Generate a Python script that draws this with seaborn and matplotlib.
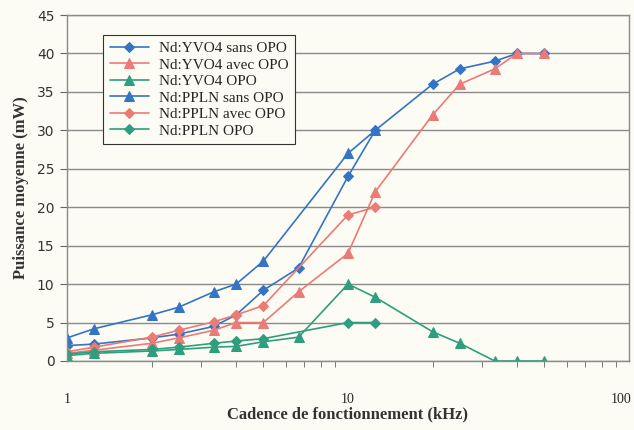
import numpy as np
import pandas as pd
import matplotlib
matplotlib.use("Agg")
import matplotlib.pyplot as plt
import seaborn as sns

# operating rate (kHz)
freq = [1, 1.25, 2, 2.5, 3.33, 4, 5, 6.67, 10, 12.5, 20, 25, 33.3, 40, 50]
freq_pp = [1, 1.25, 2, 2.5, 3.33, 4, 5, 10, 12.5]

# average power (mW)
yvo4_sans = [2, 2.2, 3, 3.5, 4.5, 6, 9.2, 12.1, 24, 30, 36, 38, 39, 40, 40]
yvo4_avec = [1, 1.4, 2.3, 3, 4, 5, 5, 9, 14, 22, 32, 36, 38, 40, 40]
yvo4_opo = [0.7, 1, 1.3, 1.5, 1.8, 1.9, 2.5, 3.1, 10, 8.3, 3.8, 2.3, 0, 0, 0]
ppln_sans = [3, 4.2, 6, 7, 9, 10, 13, 27, 30]
ppln_avec = [1.2, 1.8, 3.1, 4, 5.1, 6, 7.2, 19, 20]
ppln_opo = [0.9, 1.2, 1.5, 1.8, 2.3, 2.6, 2.9, 5, 5]

BLUE = "#3574c4"
RED = "#ec7a76"
GREEN = "#2f9e7e"
SERIF = "Liberation Serif"

series = [
    ("Nd:YVO4 sans OPO", freq, yvo4_sans, BLUE, "D"),
    ("Nd:YVO4 avec OPO", freq, yvo4_avec, RED, "^"),
    ("Nd:YVO4 OPO", freq, yvo4_opo, GREEN, "^"),
    ("Nd:PPLN sans OPO", freq_pp, ppln_sans, BLUE, "^"),
    ("Nd:PPLN avec OPO", freq_pp, ppln_avec, RED, "D"),
    ("Nd:PPLN OPO", freq_pp, ppln_opo, GREEN, "D"),
]

sns.set_style("white")
bg = "#fcfcf4"
fig = plt.figure(figsize=(6.34, 4.30), dpi=100, facecolor=bg)
ax = fig.add_axes([0.1057, 0.1605, 0.8863, 0.8045])
ax.set_facecolor(bg)

for name, xs, ys, col, mk in series:
    df = pd.DataFrame({"f": xs, "p": ys})
    ms = 5.5 if mk == "D" else 7
    sns.lineplot(data=df, x="f", y="p", ax=ax, color=col, marker=mk,
                 markersize=ms, markeredgecolor=col, linewidth=1.2,
                 label=name)

ax.set_xscale("log")
ax.set_xlim(1, 100)
ax.set_ylim(0, 45)
ax.set_yticks(range(0, 46, 5))
ax.yaxis.grid(True, color="#8a8a8a", linewidth=1.0)
ax.set_axisbelow(True)
for sp in ax.spines.values():
    sp.set_color("#8a8a8a")
    sp.set_linewidth(1.0)

ax.set_xticks([1, 10, 100])
ax.set_xticklabels(["1", "10", ""], fontfamily=SERIF, fontsize=10)
# last label nudged left so it stays inside the figure
ax.annotate("100", xy=(100, 0), xycoords="data", xytext=(-8, -32),
            textcoords="offset pixels", ha="center", va="top",
            fontfamily=SERIF, fontsize=10, annotation_clip=False)
ax.tick_params(axis="x", which="major", direction="out", length=5,
               color="#666666", pad=18)
ax.tick_params(axis="x", which="minor", direction="out", length=4,
               color="#666666", bottom=True)
ax.tick_params(axis="y", direction="out", length=5, color="#666666",
               labelsize=10, labelcolor="#333333", pad=4, left=True)

ax.set_xlabel("Cadence de fonctionnement (kHz)", fontfamily=SERIF,
              fontsize=12, fontweight="bold", color="#333333", labelpad=0)
ax.set_ylabel("Puissance moyenne (mW)", fontfamily=SERIF, fontsize=12,
              fontweight="bold", color="#333333", labelpad=6)

leg = ax.legend(loc="upper left", bbox_to_anchor=(0.05, 0.965),
                prop={"family": SERIF, "size": 11}, frameon=True,
                fancybox=False, edgecolor="#333333", framealpha=1,
                handlelength=2.6, labelspacing=0.18, borderpad=0.45,
                handletextpad=0.6)
leg.get_frame().set_facecolor(bg)
leg.get_frame().set_linewidth(0.8)

fig.savefig("out.png", dpi=100, facecolor=bg)
